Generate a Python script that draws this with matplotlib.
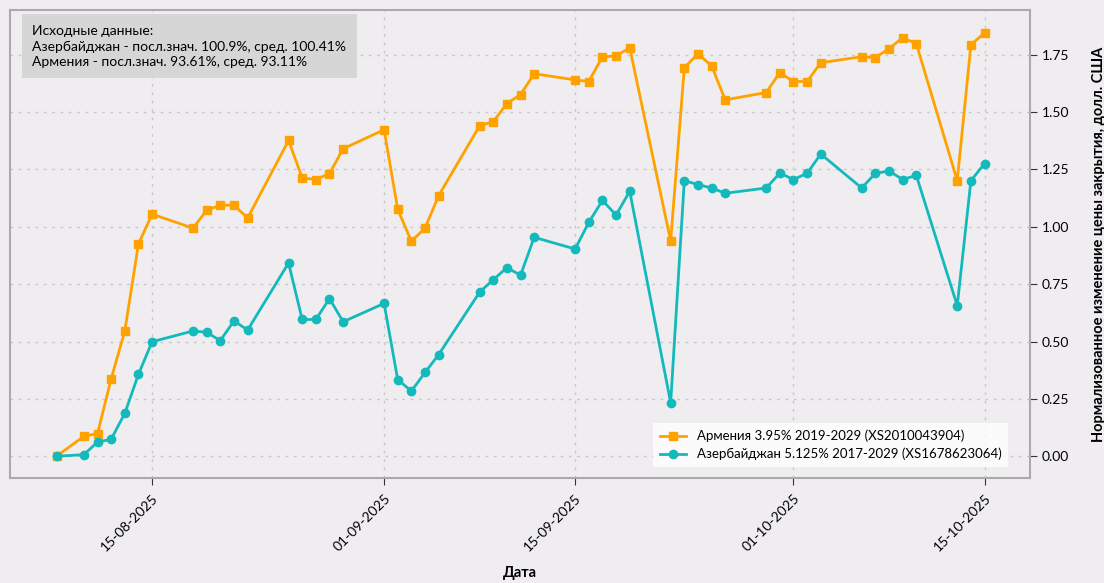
import matplotlib
matplotlib.use("Agg")
import matplotlib.pyplot as plt
import matplotlib.dates as mdates
import pandas as pd

# dates of observations
dates = ["2025-08-08", "2025-08-10", "2025-08-11", "2025-08-12", "2025-08-13", "2025-08-14",
         "2025-08-15", "2025-08-18", "2025-08-19", "2025-08-20", "2025-08-21", "2025-08-22",
         "2025-08-25", "2025-08-26", "2025-08-27", "2025-08-28", "2025-08-29",
         "2025-09-01", "2025-09-02", "2025-09-03", "2025-09-04", "2025-09-05",
         "2025-09-08", "2025-09-09", "2025-09-10", "2025-09-11", "2025-09-12",
         "2025-09-15", "2025-09-16", "2025-09-17", "2025-09-18", "2025-09-19",
         "2025-09-22", "2025-09-23", "2025-09-24", "2025-09-25", "2025-09-26",
         "2025-09-29", "2025-09-30", "2025-10-01", "2025-10-02", "2025-10-03",
         "2025-10-06", "2025-10-07", "2025-10-08", "2025-10-09", "2025-10-10",
         "2025-10-13", "2025-10-14", "2025-10-15"]

armenia = [0.00, 0.087, 0.099, 0.337, 0.546, 0.925,
           1.055, 0.994, 1.072, 1.094, 1.094, 1.038,
           1.376, 1.213, 1.206, 1.232, 1.340,
           1.423, 1.076, 0.937, 0.994, 1.136,
           1.440, 1.458, 1.537, 1.576, 1.667,
           1.640, 1.633, 1.741, 1.744, 1.780,
           0.938, 1.693, 1.754, 1.701, 1.553,
           1.585, 1.672, 1.633, 1.633, 1.715,
           1.741, 1.737, 1.776, 1.824, 1.798,
           1.201, 1.793, 1.845]

azerbaijan = [0.00, 0.007, 0.062, 0.074, 0.187, 0.357,
              0.499, 0.546, 0.540, 0.504, 0.590, 0.550,
              0.842, 0.596, 0.596, 0.687, 0.586,
              0.666, 0.334, 0.284, 0.365, 0.443,
              0.715, 0.769, 0.822, 0.789, 0.954,
              0.903, 1.019, 1.115, 1.051, 1.155,
              0.233, 1.201, 1.184, 1.169, 1.146,
              1.169, 1.234, 1.206, 1.233, 1.317,
              1.169, 1.233, 1.243, 1.206, 1.224,
              0.656, 1.201, 1.275]

xticks = ["2025-08-15", "2025-09-01", "2025-09-15", "2025-10-01", "2025-10-15"]
yticks = [0.0, 0.25, 0.5, 0.75, 1.0, 1.25, 1.5, 1.75]

label_arm = "Армения 3.95% 2019-2029 (XS2010043904)"
label_az = "Азербайджан 5.125% 2017-2029 (XS1678623064)"
info = ("Исходные данные:\n"
        "Азербайджан - посл.знач. 100.9%, сред. 100.41%\n"
        "Армения - посл.знач. 93.61%, сред. 93.11%")

plt.rcParams['font.family'] = ['Lato', 'DejaVu Sans']

bg = '#efedf0'
x = pd.to_datetime(dates)

fig = plt.figure(figsize=(11.04, 5.83), dpi=100, facecolor=bg)
ax = fig.add_axes([0.009, 0.180, 0.924, 0.803])
ax.set_facecolor(bg)

ax.plot(x, armenia, color='#ffa200', marker='s', markersize=6, linewidth=2, label=label_arm)
ax.plot(x, azerbaijan, color='#13b9bb', marker='o', markersize=6, linewidth=2, label=label_az)

ax.set_xlim(pd.Timestamp("2025-08-04 14:00"), pd.Timestamp("2025-10-18 08:00"))
ax.set_ylim(-0.095, 1.945)
ax.set_xticks(pd.to_datetime(xticks))
ax.xaxis.set_major_formatter(mdates.DateFormatter('%d-%m-%Y'))
ax.set_yticks(yticks)
ax.yaxis.tick_right()
ax.yaxis.set_label_position('right')
ax.tick_params(axis='both', labelsize=10, color='#333333', length=5)
ax.tick_params(axis='x', pad=5)
plt.setp(ax.get_xticklabels(), rotation=45, ha='right', rotation_mode='anchor')

ax.grid(True, linestyle=(0, (2, 4)), color='#c8c8c8', linewidth=1)
for s in ax.spines.values():
    s.set_color('#aaaaaa')
    s.set_linewidth(1.5)

ax.set_xlabel("Дата", fontsize=10.5, fontweight='bold', labelpad=9)
ax.set_ylabel("Нормализованное изменение цены закрытия, долл. США", fontsize=10.5,
              fontweight='bold', labelpad=16)

ax.text(0.022, 0.968, info, transform=ax.transAxes, fontsize=10, va='top', ha='left',
        linespacing=1.35,
        bbox=dict(boxstyle='square,pad=0.75', facecolor='#d6d6d6', edgecolor='none'))

leg = ax.legend(loc='lower right', fontsize=9.5, frameon=True, fancybox=False,
                bbox_to_anchor=(0.985, 0.01), borderpad=0.5, handlelength=2,
                labelspacing=0.4)
leg.get_frame().set_facecolor('#ffffff')
leg.get_frame().set_edgecolor('none')
leg.get_frame().set_alpha(0.8)

fig.savefig("out.png", dpi=100, facecolor=bg)
